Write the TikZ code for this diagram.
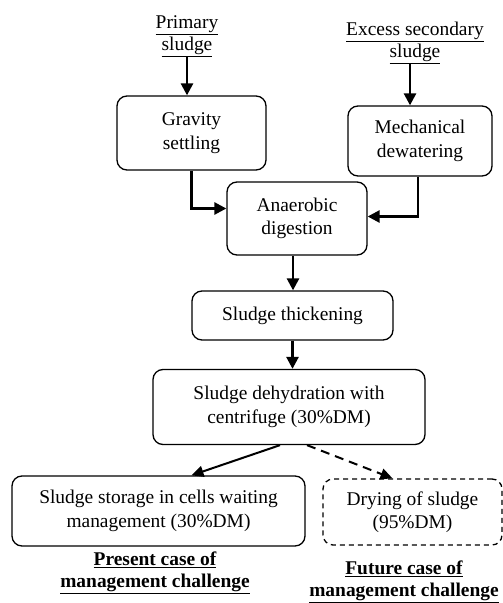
\documentclass[tikz,border=0pt]{standalone}
\usepackage{fontspec}
\setmainfont{Liberation Serif}
\usetikzlibrary{arrows.meta,calc}
\begin{document}
\begin{tikzpicture}[x=1bp,y=-1bp,
  box/.style={draw, line width=1.3bp, rounded corners=10bp, align=center, inner sep=0pt,
    font=\fontsize{19.5}{23.5}\selectfont},
  dbox/.style={box, dashed, dash pattern=on 5bp off 4bp},
  lbl/.style={align=center, inner sep=0pt, font=\fontsize{19.5}{22.5}\selectfont},
  blbl/.style={lbl, font=\fontsize{19.5}{22.5}\selectfont\bfseries},
  flow/.style={line width=2.6bp, -{Triangle[length=12bp,width=12bp]}},
  thin flow/.style={line width=2bp, -{Triangle[length=12bp,width=11bp]}}
]
\useasboundingbox (0,0) rectangle (503,603);
\fill[white] (0,0) rectangle (503,603);

\node[lbl] (prim) at (187,36) {\underline{Primary}\\\underline{sludge}};
\node[lbl] (exc) at (415,43) {\underline{Excess secondary}\\\underline{sludge}};

\node[box, minimum width=149bp, minimum height=74bp] (grav) at (191.5,133) {Gravity\\settling};
\node[box, minimum width=144bp, minimum height=70bp] (mech) at (420,141) {Mechanical\\dewatering};
\node[box, minimum width=140bp, minimum height=73bp] (anaer) at (297,218.5) {Anaerobic\\digestion};
\node[box, minimum width=201bp, minimum height=49bp] (thick) at (292.5,315.5) {Sludge thickening};
\node[box, minimum width=272bp, minimum height=75bp] (dehyd) at (289,407) {Sludge dehydration with\\centrifuge (30\%DM)};
\node[box, minimum width=293bp, minimum height=70bp] (store) at (158.5,511) {Sludge storage in cells waiting\\management (30\%DM)};
\node[dbox, minimum width=179bp, minimum height=66bp] (dry) at (412.5,512) {Drying of sludge\\(95\%DM)};

\node[blbl] (pres) at (155,573) {\underline{Present case of}\\\underline{management challenge}};
\node[blbl] (fut) at (404,582) {\underline{Future case of}\\\underline{management challenge}};

\draw[flow] (prim.south) -- (prim.south |- grav.north);
\draw[flow] ([xshift=-5bp]exc.south) -- ([xshift=-5bp]exc.south |- mech.north);
\draw[flow] (grav.south) |- ([yshift=10bp]anaer.west);
\draw[flow] ([xshift=-2bp]mech.south) |- ([yshift=2bp]anaer.east);
\draw[flow] ([xshift=-4bp]anaer.south) -- ([xshift=-4bp]anaer.south |- thick.north);
\draw[flow] (thick.south) -- (thick.south |- dehyd.north);
\draw[thin flow] ([xshift=-9bp]dehyd.south) -- ([xshift=33bp]store.north);
\draw[thin flow, dash pattern=on 9bp off 6bp] ([xshift=18bp]dehyd.south) -- ([xshift=-20bp]dry.north);
\end{tikzpicture}
\end{document}
